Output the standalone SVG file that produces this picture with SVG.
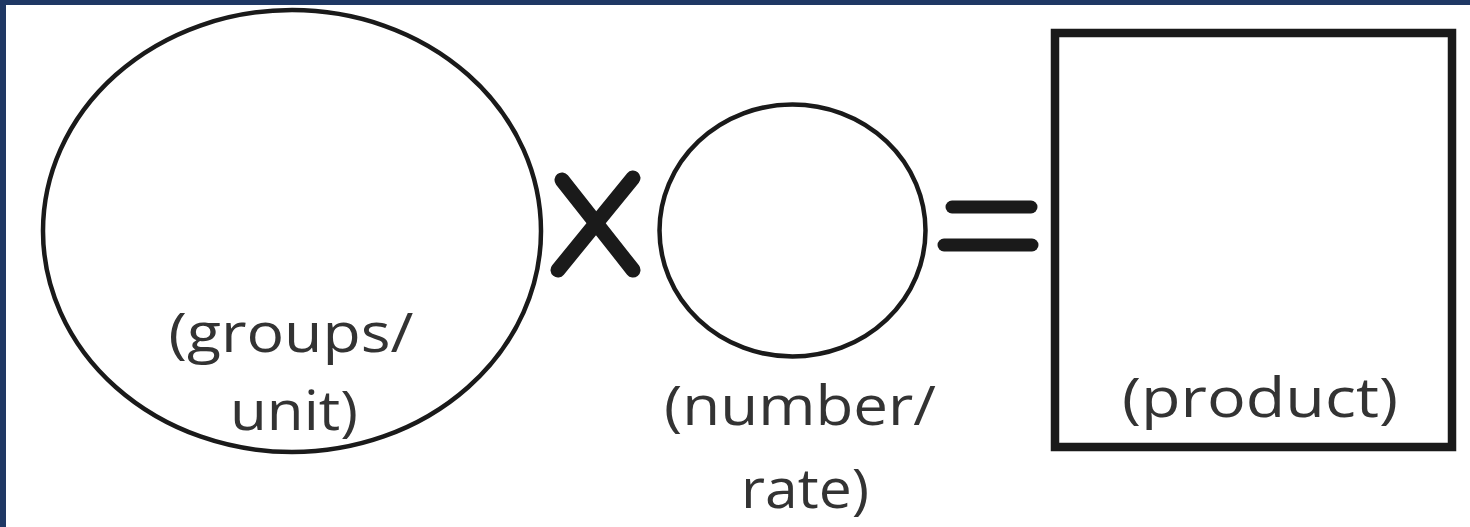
<svg xmlns="http://www.w3.org/2000/svg" width="1470" height="527" viewBox="0 0 1470 527">
  <style>
    .shape { fill: none; stroke: #1a1a1a; }
    .sym { stroke: #1a1a1a; stroke-linecap: round; fill: none; }
    .lbl { font-family: "Open Sans", "Liberation Sans", sans-serif; font-size: 54px; fill: #333333; text-anchor: middle; }
  </style>
  <rect x="0" y="0" width="1470" height="527" fill="#ffffff"/>
  <rect x="0" y="0" width="1470" height="5" fill="#1f3864"/>
  <rect x="0" y="0" width="6" height="527" fill="#1f3864"/>

  <g id="groups-unit">
    <ellipse class="shape" cx="292" cy="231" rx="249" ry="221" stroke-width="4.5"/>
    <text class="lbl" x="291" y="352" textLength="245" lengthAdjust="spacingAndGlyphs">(groups/</text>
    <text class="lbl" x="294" y="430" textLength="128" lengthAdjust="spacingAndGlyphs">unit)</text>
  </g>

  <g id="times">
    <line class="sym" x1="562" y1="180" x2="633" y2="270" stroke-width="15"/>
    <line class="sym" x1="633" y1="178" x2="558" y2="270" stroke-width="15"/>
  </g>

  <g id="number-rate">
    <ellipse class="shape" cx="792.5" cy="230.5" rx="133" ry="126" stroke-width="4.5"/>
    <text class="lbl" x="800" y="425" textLength="272" lengthAdjust="spacingAndGlyphs">(number/</text>
    <text class="lbl" x="805" y="508" textLength="128" lengthAdjust="spacingAndGlyphs">rate)</text>
  </g>

  <g id="equals">
    <line class="sym" x1="952" y1="207" x2="1031" y2="207" stroke-width="13"/>
    <line class="sym" x1="944" y1="245" x2="1032" y2="245" stroke-width="13"/>
  </g>

  <g id="product">
    <rect class="shape" x="1055" y="33" width="397" height="414" stroke-width="8.5"/>
    <text class="lbl" x="1260" y="417" textLength="276" lengthAdjust="spacingAndGlyphs">(product)</text>
  </g>

  <g id="connectors"></g>
</svg>
